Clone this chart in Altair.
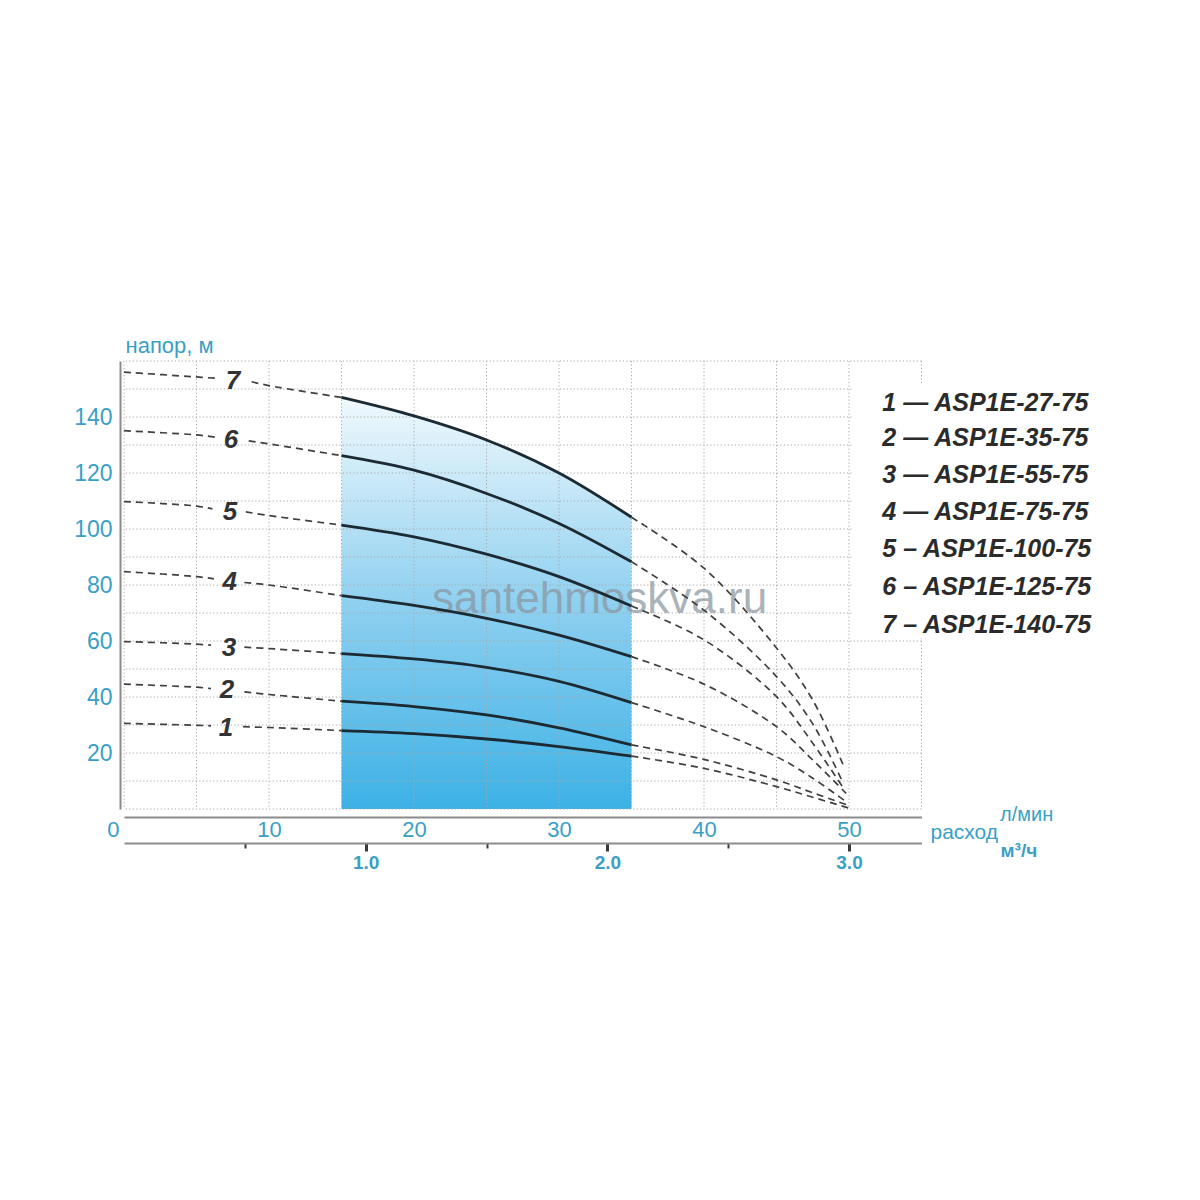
import altair as alt
import pandas as pd

TEAL = "#3a9fc5"
FONT = "Liberation Sans"

# ---------------- data ----------------
models = ["1", "2", "3", "4", "5", "6", "7"]
legend_labels = [
    "1 \u2014 ASP1E-27-75",
    "2 \u2014 ASP1E-35-75",
    "3 \u2014 ASP1E-55-75",
    "4 \u2014 ASP1E-75-75",
    "5 \u2013 ASP1E-100-75",
    "6 \u2013 ASP1E-125-75",
    "7 \u2013 ASP1E-140-75",
]

# left dashed part, before the curve number
q_head = [[0, 5, 6.0], [0, 5, 6.0], [0, 5, 6.0], [0, 5, 6.2], [0, 5, 6.1], [0, 5, 6.3], [0, 5, 6.4]]
h_head = [[30.6, 29.9, 29.7], [44.6, 43.5, 43.0], [59.8, 58.9, 58.5], [84.8, 83.0, 82.2],
          [109.8, 108.2, 107.2], [135.1, 133.6, 132.8], [156.0, 154.3, 153.8]]
# dashed part after the curve number, up to the working range
q_lead = [[8.2, 10, 15], [8.3, 10, 15], [8.3, 10, 15], [8.3, 10, 15], [8.4, 10, 15], [8.6, 10, 15], [8.8, 10, 15]]
h_lead = [[29.4, 29.1, 28.0], [41.8, 40.9, 38.5], [57.8, 57.3, 55.5], [80.9, 80.0, 76.2],
          [106.1, 104.8, 101.4], [131.5, 130.4, 126.2], [152.6, 151.2, 147.0]]
# solid working range
q_work = [15, 20, 25, 30, 35]
h_work = [[28.0, 26.9, 25.0, 22.3, 18.9], [38.5, 36.6, 33.6, 29.0, 22.9], [55.5, 53.6, 50.6, 45.6, 38.0],
          [76.2, 72.7, 68.1, 62.1, 54.4], [101.4, 97.2, 91.0, 83.0, 72.5], [126.2, 121.0, 112.7, 102.0, 88.3],
          [147.0, 140.4, 131.8, 120.0, 104.2]]
# dashed tail
q_tail = [[35, 40, 45, 47.5, 50.0], [35, 40, 45, 47.5, 49.9], [35, 40, 45, 47.5, 49.8], [35, 40, 45, 47.5, 49.8],
          [35, 40, 45, 47.5, 49.7], [35, 40, 45, 47.5, 49.6], [35, 40, 45, 47.5, 49.6]]
h_tail = [[18.9, 14.5, 8.0, 4.2, 0.3], [22.9, 17.7, 10.4, 5.8, 1.4], [38.0, 29.4, 18.7, 11.0, 2.6],
          [54.4, 44.6, 29.4, 17.5, 5.6], [72.5, 60.4, 40.1, 23.5, 6.8], [88.3, 71.0, 47.3, 30.4, 9.2],
          [104.2, 86.0, 57.5, 38.9, 15.7]]

# curve number labels
label_q = [7.03, 7.1, 7.24, 7.3, 7.31, 7.38, 7.52]
label_h = [28.9, 42.5, 57.5, 81.1, 106.1, 131.8, 152.9]

# legend rows (vertical positions in head units)
legend_q = 52.3
legend_h = [145.0, 132.5, 119.3, 106.1, 92.9, 79.3, 65.7]

grid_q = [0, 5, 10, 15, 20, 25, 30, 35, 40, 45, 50, 55]
grid_h = [0, 10, 20, 30, 40, 50, 60, 70, 80, 90, 100, 110, 120, 130, 140, 150, 160]
y_ticks = [20, 40, 60, 80, 100, 120, 140]
x_ticks = [0, 10, 20, 30, 40, 50]
m3_ticks = [0.5, 1.0, 1.5, 2.0, 2.5, 3.0]

# ---------------- tables ----------------
rows = []
for i, m in enumerate(models):
    parts = [("a", q_head[i], h_head[i], "dash"), ("b", q_lead[i], h_lead[i], "dash"),
             ("s", q_work, h_work[i], "solid"), ("t", q_tail[i], h_tail[i], "dash")]
    for seg, qs, hs, style in parts:
        for q, h in zip(qs, hs):
            rows.append({"model": m, "seg": m + seg, "style": style, "Q": q, "H": h})
df = pd.DataFrame(rows)

labels_df = pd.DataFrame({"Q": label_q, "H": label_h, "t": models})
legend_df = pd.DataFrame({"Q": [legend_q] * len(legend_labels), "H": legend_h, "t": legend_labels})
gq_df = pd.DataFrame({"Q": grid_q})
gh_df = pd.DataFrame({"H": grid_h})
box_df = pd.DataFrame({"Q1": [50.25], "Q2": [57.0], "H1": [61.0], "H2": [151.8]})
wm_df = pd.DataFrame({"Q": [32.8], "H": [74.6], "t": ["santehmoskva.ru"]})
m3_lmin = [v * 1000 / 60 for v in m3_ticks]

xs = alt.Scale(domain=[0, 55], nice=False, zero=False)
ys = alt.Scale(domain=[0, 160], nice=False)

ZERO = "datum.value === 0"
MAJOR = "abs(datum.value / 16.6667 - round(datum.value / 16.6667)) < 0.01"

axis_y = alt.Axis(
    orient="left", offset=4, values=y_ticks, domainColor="#8c8c8c", domainWidth=2,
    ticks=False, grid=False, labelColor=TEAL, labelFontSize=23, labelFont=FONT,
    labelPadding=8, title="напор, м", titleAngle=0, titleAlign="left",
    titleBaseline="middle", titleX=5, titleY=-16, titleFontSize=22,
    titleFontWeight="normal", titleColor=TEAL, titleFont=FONT,
)
axis_lmin = alt.Axis(
    orient="bottom", offset=8, values=x_ticks, domainColor="#8c8c8c", domainWidth=2,
    ticks=False, grid=False, labelColor=TEAL, labelFontSize=22, labelFont=FONT,
    labelPadding=2, labelFlush=False, labelOverlap=False,
    labelAlign={"condition": {"test": ZERO, "value": "right"}, "value": "center"},
    labelOffset={"condition": {"test": ZERO, "value": -5}, "value": 0},
    title="расход", titleX=806, titleY=15, titleAlign="left", titleBaseline="middle",
    titleFontSize=21, titleFontWeight="normal", titleColor=TEAL, titleFont=FONT,
)
axis_m3 = alt.Axis(
    orient="bottom", offset=34, values=m3_lmin, domainColor="#8c8c8c", domainWidth=2,
    ticks=True, tickColor="#3a3a3a",
    tickSize={"condition": {"test": MAJOR, "value": 8}, "value": 5},
    tickWidth={"condition": {"test": MAJOR, "value": 3}, "value": 2},
    grid=False, labelColor=TEAL, labelFontSize=19, labelFont=FONT, labelFontWeight="bold",
    labelPadding=2, labelFlush=False, labelOverlap=False,
    labelExpr=MAJOR + " ? format(datum.value * 0.06, '.1f') : ''",
    title="м³/ч", titleX=876, titleY=7, titleAlign="left", titleBaseline="middle",
    titleFontSize=19, titleFontWeight="bold", titleColor=TEAL, titleFont=FONT,
)

gradient = alt.Gradient(
    gradient="linear",
    stops=[alt.GradientStop(color="#3cb1e5", offset=0),
           alt.GradientStop(color="#8fd0f0", offset=0.5),
           alt.GradientStop(color="#f0f9fd", offset=1)],
    x1=0, x2=0, y1=1, y2=0,
)

INTERP = "catmull-rom"

area = alt.Chart(df).transform_filter("datum.model === '7' && datum.style === 'solid'").mark_area(
    color=gradient, interpolate=INTERP
).encode(x=alt.X("Q:Q", scale=xs, axis=None), y=alt.Y("H:Q", scale=ys, axis=None))

grid_v = alt.Chart(gq_df).mark_rule(color="#a8a8a8", strokeDash=[1.2, 2.3], strokeWidth=1).encode(
    x=alt.X("Q:Q", scale=xs, axis=axis_m3)
)
grid_hz = alt.Chart(gh_df).mark_rule(color="#a8a8a8", strokeDash=[1.2, 2.3], strokeWidth=1).encode(
    y=alt.Y("H:Q", scale=ys, axis=None)
)

box = alt.Chart(box_df).mark_rect(color="white").encode(
    x=alt.X("Q1:Q", scale=xs, axis=None), x2="Q2:Q",
    y=alt.Y("H1:Q", scale=ys, axis=None), y2="H2:Q",
)

watermark = alt.Chart(wm_df).mark_text(
    font=FONT, fontSize=44, color="#8a96a0", opacity=0.72, align="center", baseline="middle"
).encode(x=alt.X("Q:Q", scale=xs, axis=None), y=alt.Y("H:Q", scale=ys, axis=None), text="t:N")

dashed = alt.Chart(df).transform_filter("datum.style === 'dash'").mark_line(
    color="#404040", strokeWidth=1.7, strokeDash=[7, 5], interpolate=INTERP
).encode(
    x=alt.X("Q:Q", scale=xs, axis=axis_lmin),
    y=alt.Y("H:Q", scale=ys, axis=axis_y),
    detail="seg:N", order="Q:Q",
)
solid = alt.Chart(df).transform_filter("datum.style === 'solid'").mark_line(
    color="#1c2a33", strokeWidth=2.8, interpolate=INTERP
).encode(
    x=alt.X("Q:Q", scale=xs, axis=None),
    y=alt.Y("H:Q", scale=ys, axis=None),
    detail="seg:N", order="Q:Q",
)

nums = alt.Chart(labels_df).mark_text(
    font=FONT, fontSize=26, fontWeight="bold", fontStyle="italic", color="#333333",
    align="center", baseline="middle"
).encode(x=alt.X("Q:Q", scale=xs, axis=None), y=alt.Y("H:Q", scale=ys, axis=None), text="t:N")

legend = alt.Chart(legend_df).mark_text(
    font=FONT, fontSize=25, fontWeight="bold", fontStyle="italic", color="#2b2b2b",
    align="left", baseline="middle"
).encode(x=alt.X("Q:Q", scale=xs, axis=None), y=alt.Y("H:Q", scale=ys, axis=None), text="t:N")

unit_lmin = alt.Chart(pd.DataFrame({"t": ["л/мин"]})).mark_text(
    font=FONT, fontSize=20, color=TEAL, align="left", baseline="middle"
).encode(x=alt.value(876), y=alt.value(454), text="t:N")

chart = alt.layer(
    area, grid_v, grid_hz, box, watermark, dashed, solid, nums, legend, unit_lmin
).resolve_axis(x="independent", y="independent").properties(
    width=797.5, height=448,
    autosize=alt.AutoSizeParams(type="none"),
    padding={"left": 116, "top": 353, "right": 260, "bottom": 370},
    background="white",
).configure_view(stroke=None)

chart.save("out.html", embed_options={"renderer": "svg", "actions": False})
